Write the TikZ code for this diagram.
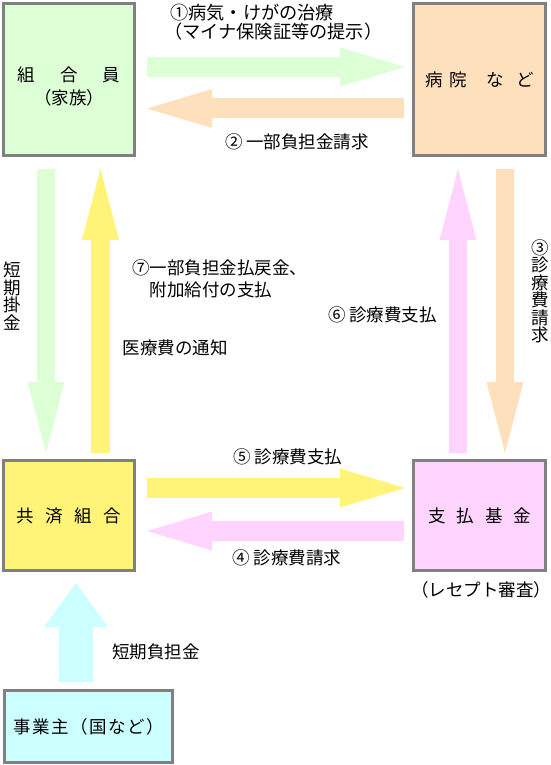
\documentclass[tikz,border=0pt]{standalone}
\usepackage{fontspec}
\newfontfamily\jpfont{Noto Sans CJK JP}
\newcommand\jpsize{\jpfont\fontsize{17.5pt}{19pt}\selectfont}
\newcommand\jpbig{\jpfont\fontsize{18.2pt}{19pt}\selectfont}
\newcommand\jpvert{\jpfont\fontsize{17.5pt}{17.5pt}\selectfont}
\usetikzlibrary{arrows.meta,calc}
\definecolor{cgreen}{RGB}{221,255,214}
\definecolor{cpeach}{RGB}{255,224,188}
\definecolor{cyellow}{RGB}{255,243,120}
\definecolor{cpink}{RGB}{255,213,255}
\definecolor{ccyan}{RGB}{204,255,255}
\definecolor{cborder}{RGB}{128,128,128}
\begin{document}
\begin{tikzpicture}[x=1pt,y=-1pt,
  box/.style={draw=cborder,line width=3pt,inner sep=0pt,font=\jpsize,align=center},
  txt/.style={font=\jpsize,inner sep=0pt,align=center},
  vtxt/.style={font=\jpvert,inner sep=0pt,align=center},
  harrow/.style={line width=20pt,-{Triangle[length=65pt,width=39pt,line width=0pt]}},
  varrow/.style={line width=18.5pt,-{Triangle[length=71pt,width=37pt,line width=0pt]}},
  carrow/.style={line width=34pt,-{Triangle[length=44pt,width=64pt,line width=0pt]}}]
\useasboundingbox (0,0) rectangle (550,765);

% boxes
\node[box,fill=cgreen,minimum width=131pt,minimum height=152pt] (kumiai) at (69,79.5) {};
\node[txt] (kumiaitxt) at (69,86.5) {組\hspace{25pt}合\hspace{25pt}員\hspace{8pt}\\[4pt]（家族）};
\node[box,fill=cpeach,minimum width=132pt,minimum height=152pt] (byoin) at (479.5,79.5) {病\hspace{7pt}院\hspace{20pt}な\hspace{12pt}ど};
\node[box,fill=cyellow,minimum width=131pt,minimum height=110pt] (kyosai) at (69,515.5) {共\hspace{11.5pt}済\hspace{11.5pt}組\hspace{11.5pt}合};
\node[box,fill=cpink,minimum width=132pt,minimum height=110pt] (shiharai) at (479.5,515.5) {支\hspace{11pt}払\hspace{11pt}基\hspace{11pt}金};
\node[box,fill=ccyan,minimum width=168pt,minimum height=72pt] (jigyo) at (88.5,726.5) {事\hspace{1.5pt}業\hspace{1.5pt}主\hspace{1.5pt}（\hspace{1.5pt}国\hspace{1.5pt}な\hspace{1.5pt}ど\hspace{1.5pt}）};

% arrows
\draw[harrow,cgreen,shorten <=11pt,shorten >=7pt] ([yshift=12.5pt]kumiai.east) -- ([yshift=12.5pt]byoin.west);
\draw[harrow,cpeach,shorten <=8pt,shorten >=11pt] ([yshift=-29pt]byoin.west) -- ([yshift=-29pt]kumiai.east);
\draw[varrow,cgreen,shorten <=12pt,shorten >=6pt] ([xshift=-23pt]kumiai.south) -- ([xshift=-23pt]kyosai.north);
\draw[varrow,cyellow,shorten <=6pt,shorten >=12pt] ([xshift=31.5pt]kyosai.north) -- ([xshift=31.5pt]kumiai.south);
\draw[varrow,cpink,shorten <=6pt,shorten >=12pt] ([xshift=-21.5pt]shiharai.north) -- ([xshift=-21.5pt]byoin.south);
\draw[varrow,cpeach,shorten <=12pt,shorten >=6pt] ([xshift=25.5pt]byoin.south) -- ([xshift=25.5pt]shiharai.north);
\draw[harrow,cyellow,shorten <=11pt,shorten >=7pt] ([yshift=27.5pt]kyosai.east) -- ([yshift=27.5pt]shiharai.west);
\draw[harrow,cpink,shorten <=8pt,shorten >=11pt] ([yshift=-15.5pt]shiharai.west) -- ([yshift=-15.5pt]kyosai.east);
\coordinate (cybase) at ([xshift=-12.5pt]jigyo.north);
\draw[carrow,ccyan,shorten <=7pt,shorten >=11pt] (cybase) -- (cybase |- kyosai.south);

% labels
\node[txt,font=\jpbig,anchor=west,align=left] (l1) at (170,22.5) {①病気・けがの治療\\\hspace*{-6pt}（マイナ保険証等の提示）};
\node[txt] (l2) at (297,142) {② 一部負担金請求};
\node[vtxt] (l3) at (540,291.5) {③\\診\\療\\費\\請\\求};
\node[txt] (l4) at (287,558) {④ 診療費請求};
\node[txt] (l5) at (288,457) {⑤ 診療費支払};
\node[txt] (l6) at (382.5,315) {⑥ 診療費支払};
\node[txt,anchor=west,align=left] (l7) at (132,279) {⑦一部負担金払戻金、\\[3pt]\hspace*{1em}附加給付の支払};
\node[txt] (l8) at (175,348) {医療費の通知};
\node[vtxt] (l9) at (12,296) {短\\期\\掛\\金};
\node[txt] (l10) at (156,652) {短期負担金};
\node[txt] (l11) at (481,590) {（レセプト審査）};
\end{tikzpicture}
\end{document}
